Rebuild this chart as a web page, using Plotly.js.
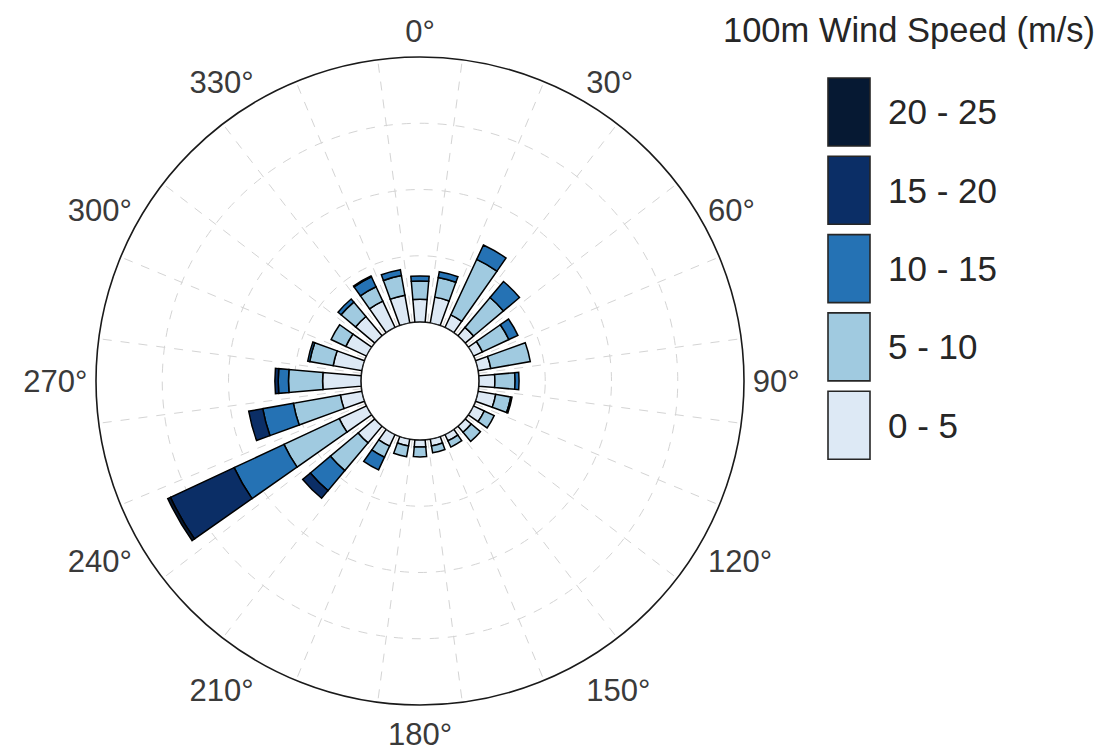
<!DOCTYPE html>
<html>
<head>
<meta charset="utf-8">
<script src="https://cdn.plot.ly/plotly-3.0.1.min.js"></script>
<style>
html,body{margin:0;padding:0;background:#ffffff;}
#chart{width:1117px;height:755px;}
</style>
</head>
<body>
<div id="chart"></div>
<script>
// Wind direction bins (degrees, 15° sectors)
const directions = [0,15,30,45,60,75,90,105,120,135,150,165,180,195,210,225,240,255,270,285,300,315,330,345];

// Frequency (%) in each wind speed class, per direction bin
const speed0to5   = [0.69,0.79,0.42,0.33,0.30,0.39,0.48,0.54,0.36,0.24,0.21,0.21,0.21,0.21,0.39,0.66,0.91,0.66,1.16,0.88,0.69,0.76,0.88,0.85];
const speed5to10  = [0.55,0.60,1.85,1.18,0.88,1.21,0.61,0.46,0.33,0.36,0.21,0.21,0.30,0.33,0.37,1.09,1.84,1.44,1.03,0.72,0.49,0.57,0.48,0.60];
const speed10to15 = [0.15,0.18,0.48,0.63,0.30,0.00,0.12,0.04,0.00,0.00,0.00,0.00,0.00,0.00,0.42,0.79,1.66,0.94,0.31,0.06,0.00,0.12,0.33,0.18];
const speed15to20 = [0.00,0.00,0.00,0.00,0.00,0.00,0.00,0.00,0.00,0.00,0.00,0.00,0.00,0.00,0.00,0.30,2.12,0.43,0.10,0.00,0.00,0.00,0.03,0.00];
const speed20to25 = [0.00,0.00,0.00,0.00,0.00,0.00,0.00,0.00,0.00,0.00,0.00,0.00,0.00,0.00,0.00,0.00,0.09,0.00,0.00,0.00,0.00,0.00,0.00,0.00];

const speedLabels = ['0 - 5','5 - 10','10 - 15','15 - 20','20 - 25'];
const speedColors = ['#dde9f5','#a0cae0','#2572b4','#0b2e66','#061933'];
const speedSeries = [speed0to5, speed5to10, speed10to15, speed15to20, speed20to25];

const angleLabelVals = [0,30,60,90,120,150,180,210,240,270,300,330];
const angleLabelText = angleLabelVals.map(v => v + '°');
const gridAngles = directions.map(d => d + 7.5);
const radialGrid = [2,4,6];
const legendTitle = '100m Wind Speed (m/s)';

const W = 1117, H = 755;
const cx = 420, cy = 381, R = 324;
const dom = {
  x: [(cx - R) / W, (cx + R) / W],
  y: [1 - (cy + R) / H, 1 - (cy - R) / H]
};
const HOLE = 59 / R;
const RMAX = 8;
const FONT = 'Liberation Sans, Arial, sans-serif';

const traces = [];
// invisible anchor so the grid subplot exists
traces.push({
  type: 'scatterpolar', subplot: 'polar', r: [0], theta: [0], mode: 'markers',
  marker: {size: 1, opacity: 0}, hoverinfo: 'skip', showlegend: false
});
speedSeries.forEach((vals, i) => {
  traces.push({
    type: 'barpolar',
    subplot: 'polar2',
    name: speedLabels[i],
    r: vals,
    theta: directions,
    width: 10,
    marker: {color: speedColors[i], line: {color: '#000000', width: 1.5}},
    showlegend: false
  });
});

// legend drawn from the speed class arrays (top: highest class)
const shapes = [];
const annotations = [];
const keyL = 828, keyR = 870, keyTop = 78, keyStep = 78.3, keyH = 68;
for (let k = 0; k < speedLabels.length; k++) {
  const idx = speedLabels.length - 1 - k;
  const top = keyTop + k * keyStep;
  shapes.push({
    type: 'rect', xref: 'paper', yref: 'paper',
    x0: keyL / W, x1: keyR / W, y0: 1 - (top + keyH) / H, y1: 1 - top / H,
    fillcolor: speedColors[idx], line: {color: '#262626', width: 1.6}
  });
  annotations.push({
    xref: 'paper', yref: 'paper', x: 886 / W, y: 1 - (top + keyH / 2) / H,
    xanchor: 'left', yanchor: 'middle', showarrow: false,
    text: speedLabels[idx],
    font: {family: FONT, size: 35, color: '#262626'}
  });
}
annotations.push({
  xref: 'paper', yref: 'paper', x: 721 / W, y: 1 - 30 / H,
  xanchor: 'left', yanchor: 'middle', showarrow: false,
  text: legendTitle,
  font: {family: FONT, size: 34.5, color: '#262626'}
});

const layout = {
  width: W, height: H,
  margin: {l: 0, r: 0, t: 0, b: 0},
  paper_bgcolor: '#ffffff',
  showlegend: false,
  font: {family: FONT, color: '#3a3a3a'},
  polar: {
    domain: dom,
    hole: HOLE,
    bgcolor: '#ffffff',
    radialaxis: {
      range: [0, RMAX], tickmode: 'array', tickvals: radialGrid,
      showticklabels: false, ticks: '', showline: false,
      showgrid: true, gridcolor: '#d4d4d4', griddash: 'dash', gridwidth: 1
    },
    angularaxis: {
      rotation: 90, direction: 'clockwise',
      tickmode: 'array', tickvals: gridAngles, showticklabels: false, ticks: '',
      showgrid: true, gridcolor: '#d4d4d4', griddash: 'dash', gridwidth: 1,
      showline: true, linecolor: '#1a1a1a', linewidth: 1.6
    }
  },
  polar2: {
    domain: dom,
    hole: HOLE,
    bgcolor: 'rgba(0,0,0,0)',
    barmode: 'stack',
    radialaxis: {
      range: [0, RMAX], showticklabels: false, ticks: '', showline: false, showgrid: false
    },
    angularaxis: {
      rotation: 90, direction: 'clockwise',
      tickmode: 'array', tickvals: angleLabelVals, ticktext: angleLabelText,
      ticks: 'outside', ticklen: 2, tickcolor: 'rgba(0,0,0,0)',
      showgrid: false, showline: false,
      tickfont: {family: FONT, size: 31, color: '#3a3a3a'}
    }
  },
  shapes: shapes,
  annotations: annotations
};

Plotly.newPlot('chart', traces, layout, {displayModeBar: false, staticPlot: true});
</script>
</body>
</html>
